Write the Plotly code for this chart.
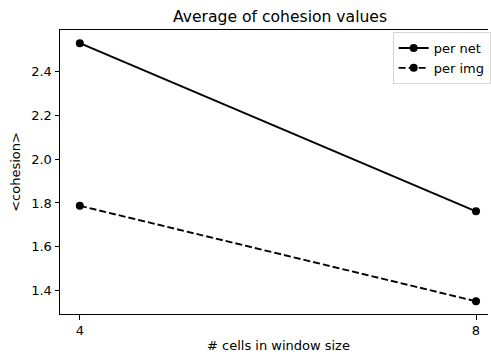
import plotly.graph_objects as go

# Window sizes and averaged cohesion values
window_sizes = [4, 8]
cohesion_per_net = [2.528, 1.762]
cohesion_per_img = [1.787, 1.352]
series_names = ["per net", "per img"]

W, H = 491, 356
ML, MR, MT, MB = 60, 0, 30, 42
FONT = "DejaVu Sans"
FS = 13

fig = go.Figure()
fig.add_trace(go.Scatter(
    x=window_sizes, y=cohesion_per_net, name=series_names[0],
    mode="lines+markers",
    line=dict(color="black", width=1.9, dash="solid"),
    marker=dict(color="black", size=8),
))
fig.add_trace(go.Scatter(
    x=window_sizes, y=cohesion_per_img, name=series_names[1],
    mode="lines+markers",
    line=dict(color="black", width=1.9, dash="7px,3px"),
    marker=dict(color="black", size=8),
))

plot_w = W - ML - MR
plot_h = H - MT - MB

def px_to_paper_x(px):
    return (px - ML) / plot_w

fig.update_layout(
    width=W, height=H,
    margin=dict(l=ML, r=MR, t=MT, b=MB, pad=0),
    paper_bgcolor="white", plot_bgcolor="white",
    font=dict(family=FONT, size=FS, color="black"),
    showlegend=True,
    legend=dict(
        x=px_to_paper_x(395), y=1 - 2 / plot_h,
        xanchor="left", yanchor="top",
        bgcolor="white", bordercolor="#d6d6d6", borderwidth=1,
        font=dict(family=FONT, size=FS, color="black"),
        itemwidth=30, tracegroupgap=0,
    ),
    xaxis=dict(
        range=[3.8, 8.121], tickvals=window_sizes, ticktext=["4", "8"],
        ticks="outside", ticklen=4.5, tickwidth=1, tickcolor="black",
        showline=True, linecolor="black", linewidth=1, mirror=True,
        showgrid=False, zeroline=False,
        tickfont=dict(family=FONT, size=FS, color="black"),
    ),
    yaxis=dict(
        range=[1.294, 2.588], tick0=1.4, dtick=0.2, tickformat=".1f",
        ticks="outside", ticklen=4.5, tickwidth=1, tickcolor="black",
        showline=True, linecolor="black", linewidth=1, mirror=False,
        showgrid=False, zeroline=False,
        tickfont=dict(family=FONT, size=FS, color="black"),
        title=dict(text="&lt;cohesion&gt;", standoff=7,
                   font=dict(family=FONT, size=FS, color="black")),
    ),
    title=dict(
        text="Average of cohesion values",
        x=280 / W, xanchor="center", xref="container",
        y=1 - 17 / H, yanchor="middle",
        font=dict(family=FONT, size=15.6, color="black"),
    ),
    annotations=[
        dict(
            text="# cells in window size", xref="paper", yref="paper",
            x=px_to_paper_x(280), y=-(345 - (H - MB)) / plot_h,
            xanchor="center", yanchor="middle", showarrow=False,
            font=dict(family=FONT, size=FS, color="black"),
        )
    ],
)

fig.write_html("out.html")
